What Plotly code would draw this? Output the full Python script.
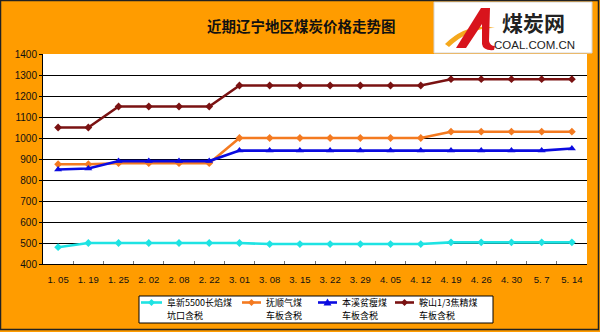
import plotly.graph_objects as go

# Dates (category labels) and prices, 元/吨
dates = ["1. 05", "1. 19", "1. 25", "2. 02", "2. 08", "2. 22", "3. 01", "3. 08", "3. 15",
         "3. 22", "3. 29", "4. 05", "4. 12", "4. 19", "4. 26", "4. 30", "5. 7", "5. 14"]
fuxin = [480, 500, 500, 500, 500, 500, 500, 495, 495, 495, 495, 495, 495, 503, 503, 503, 503, 503]
fushun = [875, 875, 880, 880, 880, 880, 1000, 1000, 1000, 1000, 1000, 1000, 1000, 1030, 1030, 1030, 1030, 1030]
benxi = [850, 855, 890, 890, 890, 890, 940, 940, 940, 940, 940, 940, 940, 940, 940, 940, 940, 950]
anshan = [1050, 1050, 1150, 1150, 1150, 1150, 1250, 1250, 1250, 1250, 1250, 1250, 1250, 1280, 1280, 1280, 1280, 1280]

series_names = ["阜新5500长焰煤", "抚顺气煤", "本溪贫瘦煤", "鞍山1/3焦精煤"]
series_notes = ["坑口含税", "车板含税", "车板含税", "车板含税"]
series_values = [fuxin, fushun, benxi, anshan]
series_colors = ["#1EE3E3", "#F47A20", "#0B0BE0", "#7A1212"]
series_symbols = ["diamond", "diamond", "triangle-up", "diamond"]

W, H = 600, 332
L, R, T, B = 43, 13, 54, 68
PW, PH = W - L - R, H - T - B


def px(x):
    return (x - L) / PW


def py(y):
    return (H - B - y) / PH


fig = go.Figure()
for name, vals, col, sym in zip(series_names, series_values, series_colors, series_symbols):
    fig.add_trace(go.Scatter(
        x=dates, y=vals, name=name, mode="lines+markers", showlegend=False,
        line=dict(color=col, width=2.6),
        marker=dict(symbol=sym, size=7 if sym == "triangle-up" else 6, color=col),
    ))

shapes = [
    # white logo panel
    dict(type="rect", xref="paper", yref="paper", x0=px(434), x1=px(592), y0=py(53), y1=py(2),
         fillcolor="white", line=dict(color="#D5D5D5", width=1), layer="above"),
    # logo swoosh (yellow-orange arc)
    dict(type="path", xref="paper", yref="paper",
         path=f"M {px(445)},{py(44)} Q {px(467)},{py(22)} {px(495)},{py(28)} "
              f"Q {px(470)},{py(27)} {px(449)},{py(47)} Z",
         fillcolor="#F5A81C", line=dict(width=0), layer="above"),
    # logo red "A" mark
    dict(type="path", xref="paper", yref="paper",
         path=f"M {px(456)},{py(48)} L {px(481)},{py(8)} L {px(490)},{py(8)} L {px(489)},{py(41)} "
              f"Q {px(490)},{py(46)} {px(495)},{py(46)} L {px(494)},{py(50)} Q {px(483)},{py(51)} {px(482)},{py(44)} "
              f"L {px(482)},{py(24)} L {px(466)},{py(48)} Z",
         fillcolor="#D8141C", line=dict(width=0), layer="above"),
    # outer frame
    dict(type="rect", xref="paper", yref="paper", x0=px(0.5), x1=px(598.5), y0=py(329.5), y1=py(0.5),
         line=dict(color="#222222", width=1.5), layer="above"),
    # legend box
    dict(type="rect", xref="paper", yref="paper", x0=px(139), x1=px(493), y0=py(323), y1=py(296),
         fillcolor="white", line=dict(color="black", width=1), layer="above"),
]

annotations = [
    dict(text="<b>近期辽宁地区煤炭价格走势图</b>", xref="paper", yref="paper", x=px(301), y=py(25),
         xanchor="center", yanchor="middle", showarrow=False,
         font=dict(family="Noto Sans CJK SC", size=14.5, color="#111111")),
    dict(text="<b>煤炭网</b>", xref="paper", yref="paper", x=px(533), y=py(22),
         xanchor="center", yanchor="middle", showarrow=False,
         font=dict(family="Noto Sans CJK SC", size=21, color="#222222")),
    dict(text="COAL.COM.CN", xref="paper", yref="paper", x=px(534), y=py(45),
         xanchor="center", yanchor="middle", showarrow=False,
         font=dict(family="Liberation Sans", size=11.5, color="#222222")),
]

# Hand-placed legend: symbol line from x0 to x1, label starting at tx
legend_slots = [(141, 162, 165), (242, 261, 264), (318, 337, 340), (395, 414, 417)]
ly1, ly2 = 302.5, 315.5
for (x0, x1, tx), name, note, col, sym in zip(legend_slots, series_names, series_notes,
                                               series_colors, series_symbols):
    shapes.append(dict(type="line", xref="paper", yref="paper", x0=px(x0), x1=px(x1),
                       y0=py(ly1), y1=py(ly1), line=dict(color=col, width=2.6), layer="above"))
    cx = (x0 + x1) / 2
    if sym == "triangle-up":
        path = f"M {px(cx - 4)},{py(ly1 + 3)} L {px(cx + 4)},{py(ly1 + 3)} L {px(cx)},{py(ly1 - 4)} Z"
    else:
        path = (f"M {px(cx - 3.5)},{py(ly1)} L {px(cx)},{py(ly1 - 3.5)} "
                f"L {px(cx + 3.5)},{py(ly1)} L {px(cx)},{py(ly1 + 3.5)} Z")
    shapes.append(dict(type="path", xref="paper", yref="paper", path=path,
                       fillcolor=col, line=dict(width=0), layer="above"))
    for txt, yy in ((name, ly1), (note, ly2)):
        annotations.append(dict(text=txt, xref="paper", yref="paper", x=px(tx), y=py(yy),
                                xanchor="left", yanchor="middle", showarrow=False,
                                font=dict(family="Noto Sans CJK SC", size=9, color="black")))

fig.update_layout(
    width=W, height=H,
    margin=dict(l=L, r=R, t=T, b=B, pad=0),
    paper_bgcolor="#FF9C00",
    plot_bgcolor="white",
    shapes=shapes,
    annotations=annotations,
    showlegend=False,
    xaxis=dict(
        type="category", range=[-0.5, len(dates) - 0.5],
        showgrid=False, showline=True, linecolor="black", linewidth=1,
        ticks="inside", ticklen=3, tickcolor="#777777", tickson="boundaries",
        tickangle=0,
        tickfont=dict(family="Liberation Sans", size=9.5, color="#111111"),
        ticklabelstandoff=7,
    ),
    yaxis=dict(
        range=[400, 1400], dtick=100, tick0=400,
        showgrid=True, gridcolor="black", gridwidth=1,
        showline=True, linecolor="black", linewidth=1,
        ticks="outside", ticklen=3, tickcolor="black",
        tickfont=dict(family="Liberation Sans", size=10, color="#111111"),
        zeroline=False,
    ),
)

fig.write_html("out.html")
